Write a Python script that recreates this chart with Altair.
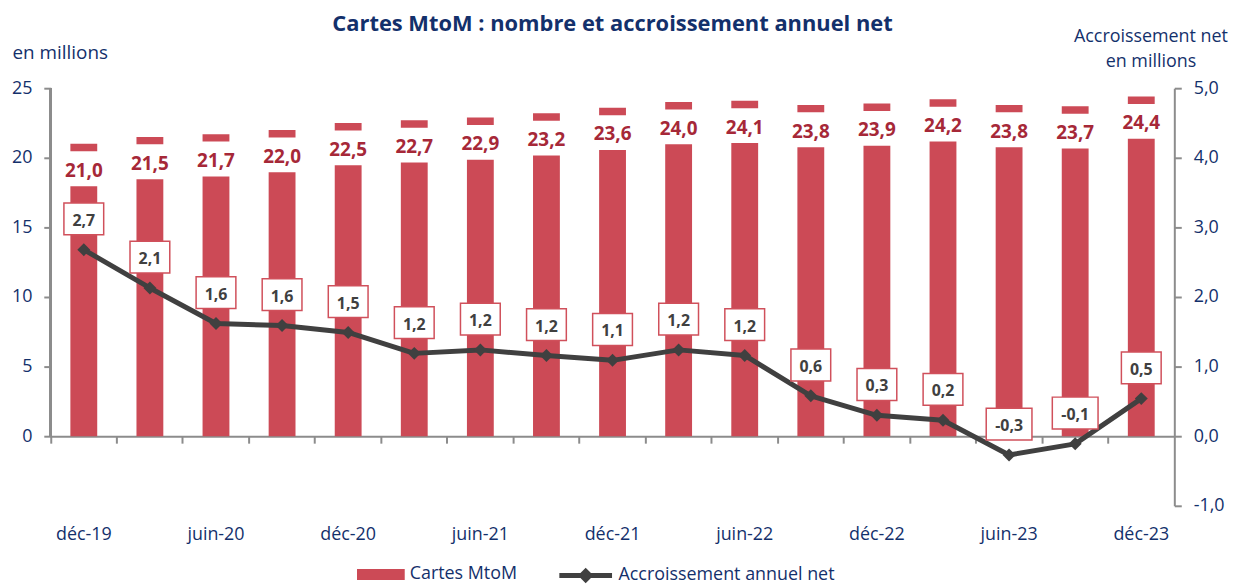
import altair as alt
import pandas as pd

# ---- data ----
periods = ["déc-19", "mars-20", "juin-20", "sept-20", "déc-20", "mars-21", "juin-21",
           "sept-21", "déc-21", "mars-22", "juin-22", "sept-22", "déc-22", "mars-23",
           "juin-23", "sept-23", "déc-23"]
cards = [21.0, 21.5, 21.7, 22.0, 22.5, 22.7, 22.9, 23.2, 23.6, 24.0, 24.1, 23.8,
         23.9, 24.2, 23.8, 23.7, 24.4]
growth = [2.68, 2.13, 1.62, 1.59, 1.49, 1.19, 1.24, 1.16, 1.09, 1.24, 1.16, 0.58,
          0.30, 0.23, -0.27, -0.11, 0.54]

series_bar = "Cartes MtoM"
series_line = "Accroissement annuel net"

df = pd.DataFrame({
    "periode": periods,
    "cartes": cards,
    "accr": growth,
    "lab_cartes": [f"{v:.1f}".replace(".", ",") for v in cards],
    "lab_accr": [f"{v:.1f}".replace(".", ",") for v in growth],
    "s1": series_bar,
    "s2": series_line,
})

FONT = "Open Sans"
NAVY = "#13306b"
GREY = "#8c8c8c"
RED = "#cc4a56"
DARKRED = "#a62838"
LINE = "#404040"

x_enc = alt.X(
    "periode:N", sort=periods,
    scale=alt.Scale(paddingInner=0, paddingOuter=0),
    axis=alt.Axis(
        title=None, orient="bottom", offset=-70, bandPosition=0,
        domainColor=GREY, domainWidth=2, tickColor=GREY, tickWidth=2, tickSize=7,
        labelExpr="(slice(datum.value,0,3)=='déc' || slice(datum.value,0,4)=='juin') ? datum.value : ''",
        labelAngle=0, labelFont=FONT, labelFontSize=18, labelColor=NAVY,
        labelBaseline="alphabetic", labelPadding=97, labelOverlap=False,
    ),
)

y_left = alt.Y(
    "cartes:Q",
    scale=alt.Scale(domain=[-5, 25], nice=False, zero=False),
    axis=alt.Axis(
        orient="left", values=[0, 5, 10, 15, 20, 25], domain=False,
        tickColor=GREY, tickWidth=2, tickSize=7, grid=False,
        labelFont=FONT, labelFontSize=18, labelColor=NAVY, labelPadding=12,
        title="en millions", titleAngle=0, titleFont=FONT, titleFontSize=19,
        titleFontWeight="normal", titleColor=NAVY, titleAlign="left",
        titleBaseline="alphabetic", titleX=-39, titleY=-30,
    ),
)

y_right = alt.Y(
    "accr:Q",
    scale=alt.Scale(domain=[-1, 5], nice=False, zero=False),
    axis=alt.Axis(
        orient="right", values=[-1, 0, 1, 2, 3, 4, 5], domainColor=GREY, domainWidth=2,
        tickColor=GREY, tickWidth=2, tickSize=7, grid=False,
        labelExpr="replace(replace(format(datum.value, '.1f'), '.', ','), '\u2212', '-')",
        labelFont=FONT, labelFontSize=18, labelColor=NAVY, labelPadding=12,
        title=["Accroissement net", "en millions"], titleAngle=0, titleFont=FONT,
        titleFontSize=18, titleFontWeight="normal", titleColor=NAVY,
        titleAlign="center", titleBaseline="alphabetic", titleX=-24, titleY=-47,
        titleLineHeight=25,
    ),
)

base = alt.Chart(df)

bars = base.mark_bar(size=27, color=RED).encode(
    x=x_enc,
    y=y_left,
    color=alt.Color(
        "s1:N", scale=alt.Scale(range=[RED]),
        legend=alt.Legend(
            title=None, orient="none", legendX=308, legendY=465,
            symbolType="M-1,-0.23H1V0.23H-1Z", symbolSize=2304, symbolStrokeWidth=0,
            labelFont=FONT, labelFontSize=18, labelColor=NAVY, labelOffset=5,
            labelLimit=400,
        ),
    ),
)

left_domain = base.mark_rule(color=GREY, strokeWidth=2).encode(
    x=alt.value(0), y=alt.datum(0), y2=alt.datum(25)
)

bar_label_bg = base.mark_bar(size=31, color="white", yOffset=7.5, y2Offset=42.5).encode(
    x=alt.X("periode:N", sort=periods), y="cartes:Q", y2="cartes:Q"
)

bar_labels = base.mark_text(
    font=FONT, fontSize=19, fontWeight="bold", color=DARKRED,
    baseline="alphabetic", yOffset=33,
).encode(x=alt.X("periode:N", sort=periods), y="cartes:Q", text="lab_cartes:N")

left_layer = alt.layer(bars, bar_label_bg, bar_labels, left_domain)

line = base.mark_line(strokeWidth=5, strokeJoin="round").encode(
    x=alt.X("periode:N", sort=periods),
    y=y_right,
    stroke=alt.Stroke(
        "s2:N", scale=alt.Scale(range=[LINE]),
        legend=alt.Legend(
            title=None, orient="none", legendX=509, legendY=461,
            symbolType="M-1,0H1M0,-0.16L0.16,0L0,0.16L-0.16,0Z", symbolSize=2809,
            symbolStrokeWidth=5, symbolFillColor=LINE,
            labelFont=FONT, labelFontSize=18, labelColor=NAVY, labelOffset=4,
            labelLimit=400,
        ),
    ),
)

pts = base.mark_point(shape="diamond", size=170, filled=True, color=LINE, opacity=1).encode(
    x=alt.X("periode:N", sort=periods), y="accr:Q"
)

line_boxes = base.mark_bar(
    color="white", stroke="#d0505b", strokeWidth=1.5, yOffset=-47, y2Offset=-15
).encode(
    x=alt.X("periode:N", sort=periods), y="accr:Q", y2="accr:Q",
    size=alt.condition("datum.accr < 0", alt.value(46), alt.value(40)),
)

line_labels = base.mark_text(
    font=FONT, fontSize=16, fontWeight="bold", color=LINE,
    baseline="alphabetic", yOffset=-24,
).encode(x=alt.X("periode:N", sort=periods), y="accr:Q", text="lab_accr:N")

right_layer = alt.layer(line, pts, line_boxes, line_labels)

chart = alt.layer(left_layer, right_layer).resolve_scale(
    y="independent", color="independent", stroke="independent"
).properties(
    width=1130, height=420,
    autosize=alt.AutoSizeParams(type="none"),
    padding={"left": 43, "top": 79, "right": 56, "bottom": 78},
    title=alt.TitleParams(
        "Cartes MtoM : nombre et accroissement annuel net",
        font=FONT, fontSize=22, fontWeight="bold", color=NAVY,
        anchor="middle", baseline="alphabetic", offset=-25,
    ),
).configure_view(stroke=None).configure_axis(grid=False)

chart.save("out.html", embed_options={"renderer": "svg", "actions": False})
